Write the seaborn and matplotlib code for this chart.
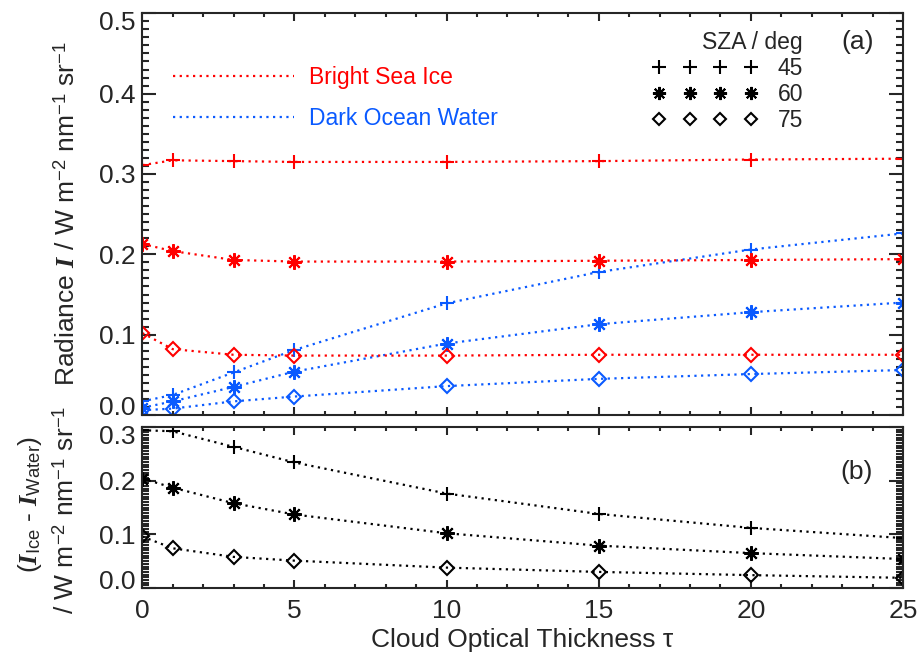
import matplotlib
matplotlib.use("Agg")
import matplotlib.pyplot as plt
from matplotlib.lines import Line2D
from matplotlib.transforms import ScaledTranslation
from matplotlib.ticker import MultipleLocator
import numpy as np
import pandas as pd
import seaborn as sns

# Cloud optical thickness grid
tau = [0, 1, 3, 5, 10, 15, 20, 25]
sza_values = [45, 60, 75]

# Radiance over bright sea ice, one list per solar zenith angle
ice_45 = [0.311, 0.317, 0.316, 0.315, 0.315, 0.316, 0.318, 0.319]
ice_60 = [0.213, 0.204, 0.193, 0.191, 0.191, 0.192, 0.193, 0.194]
ice_75 = [0.102, 0.082, 0.075, 0.074, 0.074, 0.075, 0.075, 0.075]

# Radiance over dark ocean water
water_45 = [0.017, 0.025, 0.053, 0.081, 0.139, 0.178, 0.206, 0.226]
water_60 = [0.009, 0.017, 0.035, 0.054, 0.089, 0.113, 0.128, 0.140]
water_75 = [0.006, 0.008, 0.017, 0.023, 0.036, 0.045, 0.051, 0.056]

surface_labels = ["Bright Sea Ice", "Dark Ocean Water"]

RED = "#ff0000"
BLUE = "#0a5aff"
DOT = (0, (1, 2))
LW = 1.6
MEW = 1.5
ASTER = (8, 2, 0)
marker_for = {45: "+", 60: ASTER, 75: "D"}
size_for = {45: 10.5, 60: 10.5, 75: 6.8}

ice = {45: ice_45, 60: ice_60, 75: ice_75}
water = {45: water_45, 60: water_60, 75: water_75}

rows = []
for s in sza_values:
    for t, vi, vw in zip(tau, ice[s], water[s]):
        rows.append(dict(tau=t, sza=s, ice=vi, water=vw))
df = pd.DataFrame(rows)
df["diff"] = df["ice"] - df["water"]

sns.set_style("ticks")
plt.rcParams["font.family"] = ["Liberation Sans", "DejaVu Sans"]
plt.rcParams["mathtext.fontset"] = "custom"
plt.rcParams["mathtext.rm"] = "Liberation Sans"
plt.rcParams["mathtext.it"] = "Liberation Serif:italic:bold"
plt.rcParams["mathtext.bf"] = "Liberation Sans:bold"
plt.rcParams["axes.linewidth"] = 1.5

FS = 19
fig = plt.figure(figsize=(9.19, 6.54), dpi=100)
ax_a = fig.add_axes([0.1548, 0.3654, 0.8278, 0.6143])
ax_b = fig.add_axes([0.1548, 0.1009, 0.8278, 0.2462])


def draw_series(ax, y, s, color):
    sub = df[df["sza"] == s]
    sns.lineplot(data=sub, x="tau", y=y, ax=ax, color=color, errorbar=None,
                 legend=False, linewidth=LW, linestyle=DOT,
                 marker=marker_for[s], markersize=size_for[s],
                 markeredgecolor=color, markerfacecolor="none",
                 markeredgewidth=MEW, dash_capstyle="butt")


for s in sza_values:
    draw_series(ax_a, "ice", s, RED)
    draw_series(ax_a, "water", s, BLUE)
    draw_series(ax_b, "diff", s, "black")

for ax in (ax_a, ax_b):
    ax.set_xlim(0, 25)
    ax.xaxis.set_major_locator(MultipleLocator(5))
    ax.xaxis.set_minor_locator(MultipleLocator(1))
    ax.set_xlabel("")
    ax.set_ylabel("")
    ax.tick_params(which="both", direction="in", top=True, right=True,
                   width=1.5, labelsize=FS)
    ax.tick_params(axis="x", which="major", length=6)
    ax.tick_params(axis="x", which="minor", length=3)
    ax.tick_params(axis="y", which="major", length=10, pad=5)
    ax.tick_params(axis="y", which="minor", length=5)
    for sp in ax.spines.values():
        sp.set_linewidth(1.5)

ax_a.set_ylim(0, 0.5)
ax_a.yaxis.set_major_locator(MultipleLocator(0.1))
ax_a.yaxis.set_minor_locator(MultipleLocator(0.01))
ax_a.tick_params(axis="x", labelbottom=False)

ax_b.set_ylim(0, 0.3)
ax_b.yaxis.set_major_locator(MultipleLocator(0.1))
ax_b.yaxis.set_minor_locator(MultipleLocator(0.005))
ax_b.tick_params(axis="x", which="major", pad=8)
ax_b.set_xticks([0, 5, 10, 15, 20, 25])
ax_b.set_yticks([0.0, 0.1, 0.2, 0.3])
ax_b.set_yticklabels(["0.0", "0.1", "0.2", "0.3"])
ax_a.set_yticks([0.0, 0.1, 0.2, 0.3, 0.4, 0.5])
ax_a.set_yticklabels(["0.0", "0.1", "0.2", "0.3", "0.4", "0.5"])

# Axis titles
fig.text(522 / 919, 1 - 647 / 654, "Cloud Optical Thickness \u03c4",
         ha="center", va="baseline", fontsize=FS)
fig.text(67 / 919, 1 - 214 / 654,
         r"Radiance $\mathit{I}$ / W m$^{-2}$ nm$^{-1}$ sr$^{-1}$",
         rotation=90, ha="center", va="center", fontsize=FS)
fig.text(30 / 919, 1 - 504 / 654,
         r"($\mathit{I}_{\mathrm{Ice}}$ - $\mathit{I}_{\mathrm{Water}}$)",
         rotation=90, ha="center", va="center", fontsize=FS)
fig.text(66 / 919, 1 - 510 / 654,
         r"/ W m$^{-2}$ nm$^{-1}$ sr$^{-1}$",
         rotation=90, ha="center", va="center", fontsize=FS)

# Panel tags
ax_a.text(0.9408, 0.928, "(a)", transform=ax_a.transAxes, ha="center",
          va="center", fontsize=19)
ax_b.text(0.9395, 0.7205, "(b)", transform=ax_b.transAxes, ha="center",
          va="center", fontsize=19)

# Surface legend
LFS = 16.5
surf_handles = [Line2D([], [], color=RED, lw=LW, ls=DOT, dash_capstyle="butt"),
                Line2D([], [], color=BLUE, lw=LW, ls=DOT, dash_capstyle="butt")]
leg1 = ax_a.legend(surf_handles, surface_labels, loc="upper left",
                   bbox_to_anchor=(0.0404, 0.869), frameon=False,
                   fontsize=LFS, labelcolor=[RED, BLUE], handlelength=5.3,
                   handletextpad=0.65, labelspacing=0.8, borderpad=0,
                   borderaxespad=0)
ax_a.add_artist(leg1)

# Solar zenith angle legend
sza_handles = [Line2D([], [], ls="none", marker=marker_for[s],
                      markersize=size_for[s] * 0.9, markeredgecolor="black",
                      markerfacecolor="none", markeredgewidth=MEW)
               for s in sza_values]
leg2 = ax_a.legend(sza_handles, [str(s) for s in sza_values],
                   loc="upper right", bbox_to_anchor=(0.8686, 0.956),
                   frameon=False, fontsize=LFS, title="SZA / deg",
                   title_fontsize=LFS, alignment="right", numpoints=4,
                   handlelength=4.6, handletextpad=0.87, labelspacing=0.13,
                   borderpad=0, borderaxespad=0)

# Nudge end tick labels inward so adjacent panels do not collide
fig.canvas.draw()


def nudge(ax, value, dy_px):
    for tick in ax.yaxis.get_major_ticks():
        if abs(tick.get_loc() - value) < 1e-9:
            lab = tick.label1
            lab.set_transform(lab.get_transform() +
                              ScaledTranslation(0, dy_px / 100,
                                                fig.dpi_scale_trans))


nudge(ax_a, 0.0, 10)
nudge(ax_a, 0.5, -7)
nudge(ax_b, 0.0, 9)
nudge(ax_b, 0.3, -8)

fig.savefig("out.png", dpi=100)
